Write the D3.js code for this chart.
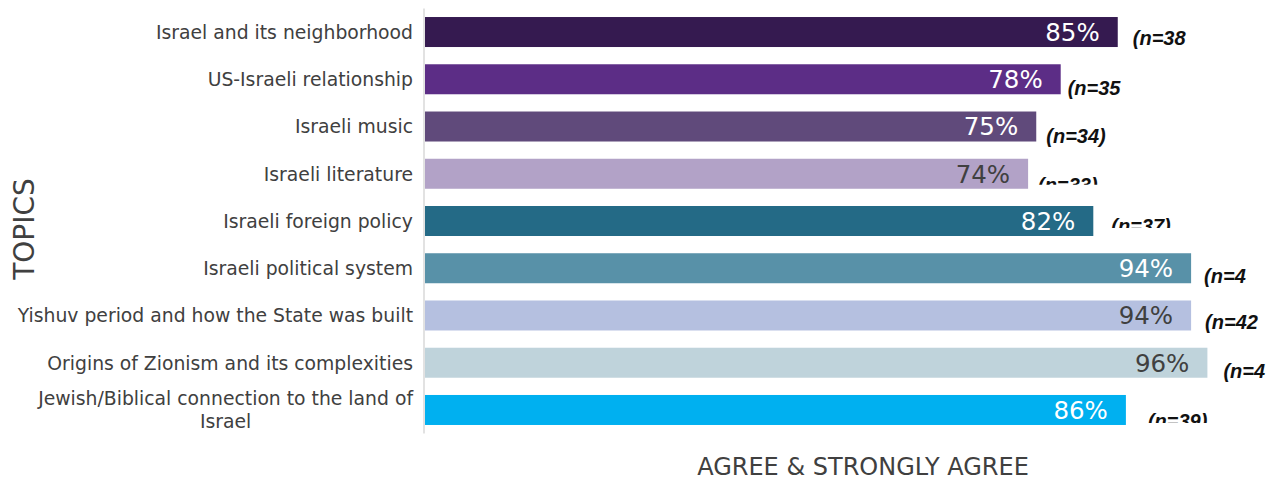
<!DOCTYPE html>
<html>
<head>
<meta charset="utf-8">
<script src="https://cdn.jsdelivr.net/npm/d3@7"></script>
<style>
  html, body { margin: 0; padding: 0; background: #ffffff; }
  svg { display: block; }
</style>
</head>
<body>
<svg id="chart" width="1273" height="480"></svg>
<script>
// Topics, in display order (top to bottom)
const topics = [
  "Israel and its neighborhood",
  "US-Israeli relationship",
  "Israeli music",
  "Israeli literature",
  "Israeli foreign policy",
  "Israeli political system",
  "Yishuv period and how the State was built",
  "Origins of Zionism and its complexities",
  "Jewish/Biblical connection to the land of Israel"
];

// Share who agree or strongly agree (%)
const agreePct = [85, 78, 75, 74, 82, 94, 94, 96, 86];

// Sample-size notes as printed beside each bar
const sampleNotes = ["(n=38", "(n=35", "(n=34)", "(n=33)", "(n=37)", "(n=4", "(n=42", "(n=4", "(n=39)"];

// Bar fills
const barColors = ["#351a50", "#5c2d86", "#604a7b", "#b2a2c7", "#246a86",
                   "#5891a8", "#b5c0e0", "#bfd3db", "#00b0f0"];
// Value text colour on each bar
const valueColors = ["#ffffff", "#ffffff", "#ffffff", "#404040", "#ffffff",
                     "#ffffff", "#404040", "#404040", "#ffffff"];

const svg = d3.select("#chart");

const x = d3.scaleLinear().domain([0, 100]).range([425, 1240]);
const y = d3.scaleBand().domain(topics).range([8.4, 433.6])
  .paddingInner(0.365).paddingOuter(0.1825);

// Note placement tweaks (horizontal gap after bar, baseline shift, bottom clip)
const noteGap   = [15, 7, 10, 10, 18, 13, 14, 16, 22];
const noteShift = [13, 16, 16, 18, 12, 15, 14, 15, 18];
const noteClip  = [null, null, null, 11, 9, null, null, null, 9];

const rows = topics.map((t, i) => ({
  topic: t, value: agreePct[i], note: sampleNotes[i],
  fill: barColors[i], txt: valueColors[i], i
}));

// Bars
svg.append("g").selectAll("rect").data(rows).join("rect")
  .attr("x", x(0))
  .attr("y", d => y(d.topic))
  .attr("width", d => x(d.value) - x(0))
  .attr("height", y.bandwidth())
  .attr("fill", d => d.fill);

// Vertical category axis line
svg.append("line")
  .attr("x1", 424).attr("x2", 424)
  .attr("y1", y.range()[0]).attr("y2", y.range()[1])
  .attr("stroke", "#d9d9d9").attr("stroke-width", 1.5);

// Category labels (wrapped where needed)
const labelRight = 413;
const lineH = 23;
const wrapLimit = 405;
const labels = svg.append("g")
  .attr("font-family", "'DejaVu Sans', Verdana, sans-serif")
  .attr("font-size", 18.8)
  .attr("fill", "#404040");

rows.forEach(d => {
  const cy = y(d.topic) + y.bandwidth() / 2;
  const t = labels.append("text").attr("text-anchor", "middle");
  // greedy word wrap
  const words = d.topic.split(" ");
  const lines = [];
  let cur = [];
  const probe = labels.append("text").attr("visibility", "hidden");
  words.forEach(w => {
    const test = cur.concat([w]).join(" ");
    probe.text(test);
    if (probe.node().getComputedTextLength() > wrapLimit && cur.length) {
      lines.push(cur.join(" "));
      cur = [w];
    } else cur.push(w);
  });
  lines.push(cur.join(" "));
  let maxW = 0;
  lines.forEach(l => { probe.text(l); maxW = Math.max(maxW, probe.node().getComputedTextLength()); });
  probe.remove();
  const cx = labelRight - maxW / 2;
  const top = cy - (lines.length - 1) * lineH / 2;
  lines.forEach((l, k) => {
    t.append("tspan").attr("x", cx).attr("y", top + k * lineH).attr("dy", "0.36em").text(l);
  });
});

// Value labels inside bar ends
svg.append("g").selectAll("text").data(rows).join("text")
  .attr("x", d => x(d.value) - 18)
  .attr("y", d => y(d.topic) + y.bandwidth() / 2)
  .attr("dy", "0.36em")
  .attr("text-anchor", "end")
  .attr("font-family", "'DejaVu Sans', Verdana, sans-serif")
  .attr("font-size", 24.5)
  .attr("fill", d => d.txt)
  .text(d => d.value + "%");

// Sample-size notes
const defs = svg.append("defs");
const notes = svg.append("g")
  .attr("font-family", "'Liberation Sans', Arial, sans-serif")
  .attr("font-size", 20)
  .attr("font-weight", "bold")
  .attr("font-style", "italic")
  .attr("fill", "#111111");
rows.forEach((d, i) => {
  const bx = x(d.value) + noteGap[i];
  const by = y(d.topic) + y.bandwidth() / 2 + noteShift[i];
  const txt = notes.append("text").attr("x", bx).attr("y", by).text(d.note);
  if (noteClip[i] !== null) {
    defs.append("clipPath").attr("id", "noteclip" + i)
      .append("rect").attr("x", bx - 10).attr("y", by - 30)
      .attr("width", 120).attr("height", 34 - noteClip[i]);
    txt.attr("clip-path", "url(#noteclip" + i + ")");
  }
});

// Axis titles
svg.append("text")
  .attr("x", 863).attr("y", 475)
  .attr("text-anchor", "middle")
  .attr("font-family", "'DejaVu Sans', Verdana, sans-serif")
  .attr("font-size", 24)
  .attr("fill", "#404040")
  .text("AGREE & STRONGLY AGREE");

svg.append("text")
  .attr("transform", "translate(34,229) rotate(-90)")
  .attr("text-anchor", "middle")
  .attr("font-family", "'DejaVu Sans', Verdana, sans-serif")
  .attr("font-size", 28)
  .attr("fill", "#404040")
  .text("TOPICS");
</script>
</body>
</html>
